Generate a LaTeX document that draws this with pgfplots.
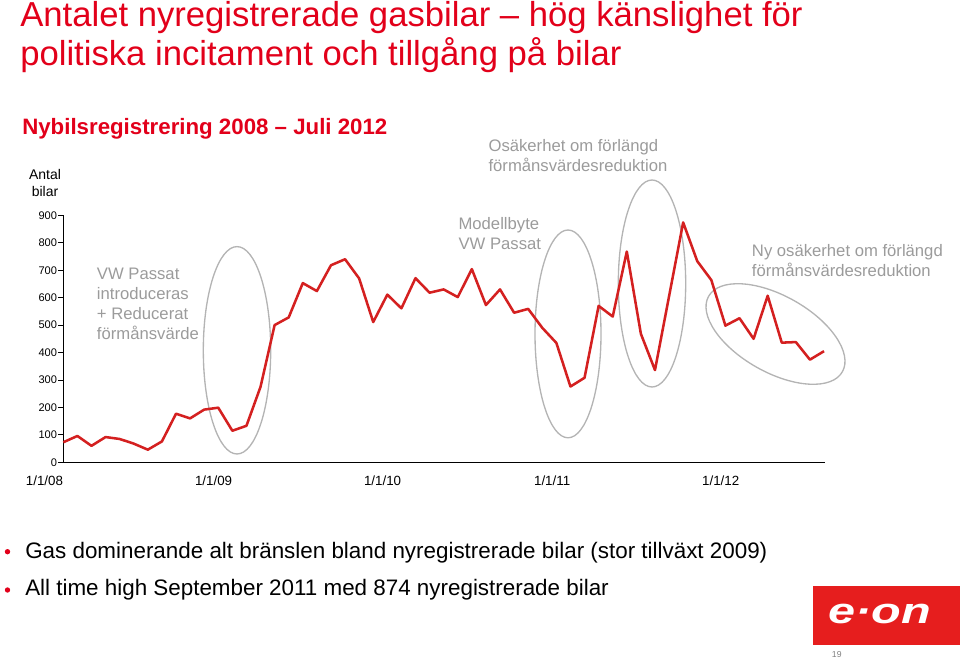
\documentclass[border=0pt]{standalone}
\usepackage{fontspec}
\setmainfont{Liberation Sans}
\usepackage{graphicx}
\usepackage{pgfplots}
\pgfplotsset{compat=1.18}
\definecolor{titlered}{RGB}{226,0,26}
\definecolor{linered}{RGB}{212,32,32}
\definecolor{annot}{RGB}{155,155,155}
\definecolor{ell}{RGB}{180,180,180}
\definecolor{eonred}{RGB}{230,30,30}

\pgfplotstableread{
m v
0 73
1 96
2 60
3 92
4 85
5 68
6 46
7 76
8 177
9 160
10 192
11 199
12 115
13 133
14 275
15 500
16 528
17 653
18 624
19 718
20 740
21 670
22 511
23 611
24 561
25 671
26 618
27 630
28 602
29 704
30 573
31 630
32 545
33 559
34 490
35 435
36 276
37 308
38 570
39 531
40 768
41 468
42 336
43 605
44 874
45 733
46 664
47 498
48 525
49 450
50 607
51 436
52 438
53 374
54 405
}\regdata

\newcommand{\ann}[3]{\node[anchor=base west, inner sep=0pt, text=annot, font=\fontsize{12.5}{15}\selectfont] at (#1,-#2) {#3};}

\begin{document}
\begin{tikzpicture}[x=0.75pt,y=0.75pt]
\useasboundingbox (0,0) rectangle (960,-659);
\coordinate (axorig) at (63.3,-462.3);
% title
\node[anchor=base west, inner sep=0pt, text=titlered, font=\fontsize{26}{30}\selectfont] at (20,-26.7) {Antalet nyregistrerade gasbilar – hög känslighet för};
\node[anchor=base west, inner sep=0pt, text=titlered, font=\fontsize{26}{30}\selectfont] at (20,-66) {politiska incitament och tillgång på bilar};
% subtitle
\node[anchor=base west, inner sep=0pt, text=titlered, font=\bfseries\fontsize{16.7}{19}\selectfont] at (22,-135) {Nybilsregistrering 2008 – Juli 2012};
% y label
\node[anchor=base, inner sep=0pt, font=\fontsize{10.5}{12}\selectfont] at (45,-180) {Antal};
\node[anchor=base, inner sep=0pt, font=\fontsize{10.5}{12}\selectfont] at (45,-196.7) {bilar};
% ellipses
\draw[ell, line width=1pt] (237,-350.3) ellipse [x radius=33.7, y radius=103.7];
\draw[ell, line width=1pt] (568,-333.9) ellipse [x radius=33, y radius=103.9];
\draw[ell, line width=1pt] (652,-283.5) ellipse [x radius=33.7, y radius=103.5];
\draw[ell, line width=1pt, rotate around={-29.4:(775.5,-334)}] (775.5,-334) ellipse [x radius=76.8, y radius=38.2];
% annotations
\ann{96.7}{280}{VW Passat}
\ann{96.7}{300}{introduceras}
\ann{96.7}{320}{+ Reducerat}
\ann{96.7}{339.5}{förmånsvärde}
\ann{458.3}{230}{Modellbyte}
\ann{458.3}{250}{VW Passat}
\ann{488.3}{151.7}{Osäkerhet om förlängd}
\ann{488.3}{171.7}{förmånsvärdesreduktion}
\ann{751.7}{256.7}{Ny osäkerhet om förlängd}
\ann{751.7}{276.5}{förmånsvärdesreduktion}
\begin{axis}[
  at={(axorig)}, anchor=south west,
  scale only axis, width=571.6pt, height=185.25pt,
  xmin=0, xmax=54.1, ymin=0, ymax=900,
  axis lines=left, axis line style={-, black, line width=0.8pt},
  xtick={0,12,24,36,48},
  xticklabels={1/1/08,1/1/09,1/1/10,1/1/11,1/1/12},
  ytick={0,100,200,300,400,500,600,700,800,900},
  yticklabels={0,100,200,300,400,500,600,700,800,900},
  tick align=outside, major tick length=3.75pt,
  xtick style={draw=none},
  ytick style={black, line width=0.6pt},
  xticklabel style={anchor=base east, inner xsep=0pt, yshift=-14pt, font=\fontsize{10}{12}\selectfont},
  yticklabel style={inner xsep=0.8pt, font=\fontsize{8.3}{10}\selectfont},
  clip=false,
]
\addplot[linered, line width=1.9pt, line join=round, mark=none] table[x=m, y=v] {\regdata};
\end{axis}
% bullets
\fill[titlered] (7.5,-551.7) circle [radius=2.7];
\fill[titlered] (7.5,-590) circle [radius=2.7];
\node[anchor=base west, inner sep=0pt, font=\fontsize{16.8}{19}\selectfont] at (25,-558.3) {Gas dominerande alt bränslen bland nyregistrerade bilar (stor tillväxt 2009)};
\node[anchor=base west, inner sep=0pt, font=\fontsize{16.8}{19}\selectfont] at (25,-595) {All time high September 2011 med 874 nyregistrerade bilar};
% logo
\fill[eonred] (813,-586) rectangle (960,-645);
\node[inner sep=0pt, text=white, font=\bfseries\itshape\fontsize{27}{30}\selectfont] at (880,-614) {\scalebox{1.35}[1]{e·on}};
\node[anchor=base west, inner sep=0pt, text=gray, font=\fontsize{6.5}{8}\selectfont] at (831.7,-657) {19};
\end{tikzpicture}
\end{document}
